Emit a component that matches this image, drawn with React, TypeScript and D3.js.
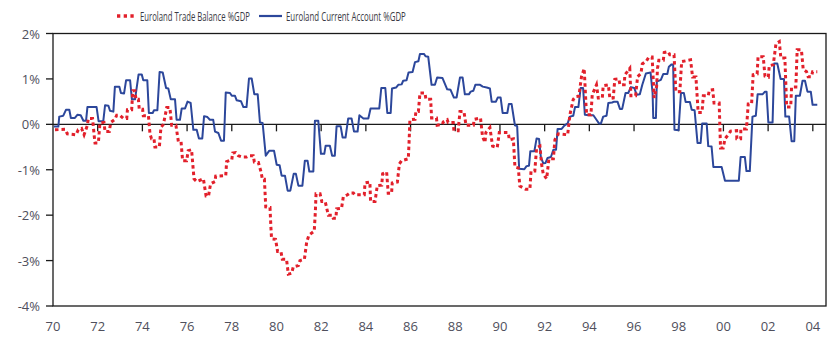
import { useEffect, useRef } from 'react';
import * as d3 from 'd3';

// Euroland trade balance vs current account, % of GDP

const tradeYears = [
    1970.09, 1970.54, 1970.64, 1971.03, 1971.13, 1971.28, 1971.39, 1971.54, 1971.58, 1971.77,
    1971.85, 1971.88, 1972.03, 1972.10, 1972.28, 1972.33, 1972.52, 1972.58, 1972.77, 1972.85,
    1972.99, 1973.15, 1973.30, 1973.33, 1973.52, 1973.57, 1973.67, 1973.71, 1973.82, 1973.86,
    1974.01, 1974.04, 1974.27, 1974.34, 1974.41, 1974.52, 1974.56, 1974.76, 1974.83, 1974.94,
    1975.03, 1975.09, 1975.23, 1975.31, 1975.50, 1975.61, 1975.73, 1975.80, 1975.98, 1976.05,
    1976.20, 1976.31, 1976.43, 1976.73, 1976.85, 1976.96, 1977.05, 1977.25, 1977.28, 1977.73,
    1977.77, 1978.00, 1978.04, 1978.17, 1978.29, 1978.47, 1978.66, 1978.77, 1978.96, 1979.01,
    1979.19, 1979.31, 1979.37, 1979.46, 1979.52, 1979.71, 1979.75, 1979.78, 1979.96, 1980.05,
    1980.20, 1980.26, 1980.45, 1980.53, 1980.68, 1980.75, 1980.98, 1981.05, 1981.25, 1981.35,
    1981.45, 1981.69, 1981.74, 1981.77, 1981.95, 1982.03, 1982.18, 1982.32, 1982.50, 1982.54,
    1982.66, 1982.69, 1982.91, 1982.99, 1983.18, 1983.29, 1983.44, 1983.51, 1983.93, 1983.96,
    1984.18, 1984.21, 1984.41, 1984.51, 1984.71, 1984.75, 1984.93, 1985.00, 1985.15, 1985.18,
    1985.41, 1985.50, 1985.60, 1985.90, 1985.94, 1985.97, 1986.20, 1986.24, 1986.35, 1986.42,
    1986.64, 1986.69, 1986.90, 1986.94, 1987.16, 1987.19, 1987.43, 1987.46, 1987.64, 1987.68,
    1987.91, 1987.94, 1988.13, 1988.21, 1988.39, 1988.48, 1988.81, 1988.85, 1989.13, 1989.22,
    1989.33, 1989.37, 1989.55, 1989.67, 1989.88, 1989.97, 1990.37, 1990.42, 1990.60, 1990.67,
    1990.82, 1990.89, 1991.04, 1991.15, 1991.34, 1991.39, 1991.56, 1991.64, 1991.79, 1991.86,
    1991.94, 1992.09, 1992.19, 1992.39, 1992.46, 1992.61, 1993.03, 1993.13, 1993.28, 1993.38,
    1993.53, 1993.65, 1993.77, 1993.85, 1993.88, 1994.07, 1994.13, 1994.32, 1994.40, 1994.58,
    1994.62, 1994.85, 1994.92, 1995.07, 1995.14, 1995.32, 1995.37, 1995.56, 1995.59, 1995.81,
    1995.86, 1996.07, 1996.16, 1996.31, 1996.37, 1996.56, 1996.66, 1996.81, 1996.90, 1997.01,
    1997.05, 1997.11, 1997.31, 1997.35, 1997.53, 1997.60, 1997.79, 1997.87, 1998.05, 1998.13,
    1998.53, 1998.62, 1998.77, 1998.87, 1999.04, 1999.10, 1999.32, 1999.37, 1999.52, 1999.58,
    1999.81, 1999.87, 1999.99, 2000.07, 2000.21, 2000.32, 2000.59, 2000.60, 2000.77, 2000.78,
    2001.03, 2001.11, 2001.26, 2001.33, 2001.51, 2001.55, 2001.78, 2001.86, 2002.01, 2002.05,
    2002.23, 2002.35, 2002.50, 2002.57, 2002.75, 2002.83, 2003.01, 2003.05, 2003.24, 2003.30,
    2003.49, 2003.57, 2003.72, 2003.79, 2003.94, 2003.99, 2004.20,
];

const tradeValues = [
    -0.12, -0.11, -0.21, -0.23, -0.12, -0.09, -0.23, -0.02, 0.13, 0.13,
    -0.28, -0.41, -0.41, 0.03, 0.04, -0.16, -0.16, 0.04, 0.11, 0.20,
    0.20, 0.13, 0.13, 0.32, 0.32, 0.74, 0.74, 0.55, 0.55, 0.33,
    0.33, 0.19, 0.19, -0.21, -0.32, -0.32, -0.50, -0.50, -0.07, 0.00,
    0.22, 0.37, 0.37, -0.02, -0.02, -0.38, -0.38, -0.80, -0.80, -0.58,
    -0.56, -1.20, -1.26, -1.20, -1.58, -1.58, -1.31, -1.26, -1.14, -1.13,
    -0.82, -0.78, -0.63, -0.62, -0.69, -0.72, -0.72, -0.69, -0.69, -0.83,
    -0.84, -1.05, -1.21, -1.21, -1.82, -1.83, -2.26, -2.52, -2.53, -2.80,
    -2.80, -2.97, -2.97, -3.30, -3.28, -3.14, -3.11, -3.00, -2.97, -2.60,
    -2.44, -2.35, -1.92, -1.53, -1.53, -1.70, -1.70, -2.00, -2.00, -2.07,
    -2.07, -1.86, -1.85, -1.60, -1.55, -1.51, -1.51, -1.55, -1.55, -1.29,
    -1.27, -1.70, -1.70, -1.35, -1.34, -1.09, -1.05, -1.52, -1.52, -1.29,
    -1.27, -0.87, -0.80, -0.76, -0.31, 0.10, 0.11, 0.28, 0.28, 0.69,
    0.69, 0.55, 0.55, 0.14, 0.14, -0.02, 0.00, 0.05, 0.10, 0.04,
    0.04, -0.14, -0.14, 0.28, 0.28, -0.02, -0.02, 0.11, 0.14, -0.27,
    -0.40, -0.18, -0.07, -0.48, -0.51, -0.18, -0.18, -0.34, -0.32, -0.94,
    -0.96, -1.36, -1.40, -1.43, -1.43, -1.03, -1.03, -0.52, -0.48, -0.87,
    -1.10, -1.20, -0.76, -0.76, -0.34, -0.21, -0.23, 0.21, 0.55, 0.61,
    0.62, 1.05, 1.23, 0.43, 0.21, 0.21, 0.65, 0.87, 0.58, 0.58,
    0.85, 0.87, 0.57, 0.58, 0.99, 1.00, 0.87, 0.87, 1.09, 1.23,
    0.63, 0.63, 1.05, 1.12, 1.33, 1.40, 1.48, 1.48, 0.58, 0.83,
    1.23, 1.41, 1.41, 1.58, 1.60, 1.53, 1.53, 0.72, 0.72, 1.38,
    1.42, 1.04, 1.04, 0.26, 0.26, 0.63, 0.63, 0.75, 0.76, 0.47,
    0.47, -0.52, -0.52, -0.32, -0.23, -0.15, -0.14, -0.32, -0.32, -0.10,
    -0.10, 0.45, 0.45, 1.09, 1.11, 1.49, 1.49, 1.06, 1.04, 1.29,
    1.31, 1.77, 1.82, 1.46, 1.46, 0.38, 0.38, 0.82, 0.82, 1.64,
    1.64, 1.21, 1.16, 1.05, 1.05, 1.16, 1.16,
];

const currentYears = [
    1970.04, 1970.24, 1970.28, 1970.46, 1970.58, 1970.73, 1970.80, 1970.98, 1971.09, 1971.24,
    1971.36, 1971.48, 1971.54, 1971.95, 1972.04, 1972.25, 1972.33, 1972.48, 1972.55, 1972.70,
    1972.77, 1972.97, 1973.04, 1973.18, 1973.27, 1973.45, 1973.53, 1973.67, 1973.83, 1973.97,
    1974.04, 1974.22, 1974.29, 1974.46, 1974.52, 1974.67, 1974.77, 1974.91, 1975.06, 1975.16,
    1975.27, 1975.46, 1975.53, 1975.68, 1975.76, 1975.91, 1976.02, 1976.16, 1976.28, 1976.43,
    1976.53, 1976.68, 1976.76, 1976.91, 1977.02, 1977.17, 1977.25, 1977.40, 1977.52, 1977.65,
    1977.73, 1977.92, 1978.00, 1978.14, 1978.22, 1978.41, 1978.52, 1978.66, 1978.77, 1978.89,
    1979.01, 1979.16, 1979.26, 1979.38, 1979.52, 1979.68, 1979.89, 1980.01, 1980.14, 1980.23,
    1980.38, 1980.50, 1980.62, 1980.77, 1980.87, 1980.98, 1981.16, 1981.27, 1981.39, 1981.47,
    1981.65, 1981.72, 1981.87, 1981.99, 1982.14, 1982.20, 1982.39, 1982.49, 1982.61, 1982.69,
    1982.87, 1982.96, 1983.09, 1983.21, 1983.36, 1983.47, 1983.63, 1983.71, 1983.89, 1984.11,
    1984.21, 1984.60, 1984.69, 1984.87, 1984.96, 1985.11, 1985.17, 1985.35, 1985.45, 1985.60,
    1985.67, 1985.82, 1985.91, 1986.09, 1986.20, 1986.35, 1986.42, 1986.60, 1986.67, 1986.79,
    1986.94, 1987.09, 1987.19, 1987.43, 1987.64, 1987.79, 1987.94, 1988.06, 1988.21, 1988.33,
    1988.43, 1988.61, 1988.69, 1988.81, 1988.90, 1989.11, 1989.23, 1989.41, 1989.55, 1989.63,
    1989.82, 1989.90, 1990.03, 1990.12, 1990.33, 1990.40, 1990.52, 1990.67, 1990.77, 1990.86,
    1991.09, 1991.19, 1991.30, 1991.36, 1991.54, 1991.64, 1991.75, 1991.83, 1991.94, 1992.04,
    1992.13, 1992.28, 1992.39, 1992.51, 1992.58, 1992.76, 1992.88, 1993.03, 1993.13, 1993.28,
    1993.36, 1993.51, 1993.61, 1993.72, 1993.80, 1993.98, 1994.18, 1994.32, 1994.43, 1994.52,
    1994.62, 1994.77, 1994.85, 1995.02, 1995.11, 1995.26, 1995.37, 1995.47, 1995.62, 1995.74,
    1995.86, 1996.01, 1996.12, 1996.26, 1996.37, 1996.53, 1996.74, 1996.83, 1996.86, 1996.98,
    1997.02, 1997.20, 1997.31, 1997.49, 1997.56, 1997.68, 1997.75, 1997.81, 1997.99, 1998.10,
    1998.23, 1998.31, 1998.50, 1998.58, 1998.71, 1998.84, 1998.98, 1999.05, 1999.25, 1999.32,
    1999.47, 1999.55, 1999.92, 2000.07, 2000.69, 2000.77, 2000.96, 2001.03, 2001.18, 2001.30,
    2001.45, 2001.53, 2001.75, 2001.86, 2001.93, 2002.01, 2002.20, 2002.27, 2002.41, 2002.56,
    2002.71, 2002.77, 2002.94, 2003.05, 2003.17, 2003.24, 2003.42, 2003.54, 2003.65, 2003.76,
    2003.91, 2003.99, 2004.20,
];

const currentValues = [
    -0.05, -0.05, 0.17, 0.19, 0.32, 0.32, 0.14, 0.14, 0.21, 0.20,
    0.08, 0.08, 0.38, 0.38, 0.07, 0.07, 0.42, 0.41, 0.30, 0.28,
    0.83, 0.83, 0.69, 0.68, 0.97, 0.97, 0.55, 0.55, 1.10, 1.10,
    0.97, 0.97, 0.25, 0.25, 0.31, 0.31, 1.15, 1.14, 0.80, 0.79,
    0.55, 0.55, 0.10, 0.10, 0.35, 0.35, 0.50, 0.47, -0.12, -0.12,
    -0.31, -0.31, 0.18, 0.16, 0.10, 0.10, -0.16, -0.19, -0.36, -0.36,
    0.70, 0.69, 0.63, 0.63, 0.53, 0.51, 0.38, 0.38, 1.01, 1.01,
    0.66, 0.66, 0.04, 0.03, -0.69, -0.58, -0.58, -0.89, -0.90, -1.13,
    -1.13, -1.46, -1.46, -1.09, -1.09, -1.35, -1.35, -0.80, -0.80, -1.04,
    -1.04, 0.08, 0.08, -0.65, -0.65, -0.47, -0.47, -0.69, -0.69, -0.04,
    -0.04, -0.29, -0.29, 0.13, 0.13, -0.16, -0.16, 0.20, 0.13, 0.13,
    0.35, 0.35, 0.80, 0.80, 0.25, 0.25, 0.79, 0.81, 0.87, 0.88,
    0.96, 0.97, 1.14, 1.15, 1.37, 1.39, 1.55, 1.55, 1.50, 1.49,
    0.87, 0.87, 1.03, 1.02, 0.77, 0.76, 0.59, 0.59, 1.03, 1.03,
    0.66, 0.66, 0.72, 0.74, 0.87, 0.87, 0.83, 0.81, 0.79, 0.50,
    0.50, 0.59, 0.59, 0.25, 0.25, 0.45, 0.45, -0.02, -0.04, -0.98,
    -0.99, -0.92, -0.91, -0.59, -0.59, -0.31, -0.32, -0.72, -0.86, -0.85,
    -0.74, -0.72, -0.56, -0.56, -0.10, -0.10, -0.03, 0.02, 0.17, 0.19,
    0.38, 0.38, 0.80, 0.80, 0.21, 0.20, 0.20, 0.10, 0.02, 0.02,
    0.17, 0.19, 0.47, 0.48, 0.50, 0.50, 0.34, 0.34, 0.69, 0.69,
    0.82, 0.80, 0.65, 0.66, 0.87, 1.12, 1.14, 0.69, 0.14, 0.14,
    0.94, 0.98, 1.11, 1.11, 1.27, 1.32, 1.32, -0.12, -0.13, 0.69,
    0.69, 0.49, 0.49, 0.32, 0.31, -0.41, -0.41, 0.02, 0.02, -0.48,
    -0.49, -0.94, -0.94, -1.24, -1.24, -0.72, -0.72, -1.03, -1.03, 0.17,
    0.19, 0.66, 0.66, 0.72, 0.72, 0.04, 0.04, 1.34, 1.34, 1.00,
    1.00, 0.17, 0.17, -0.37, -0.37, 0.63, 0.63, 0.96, 0.96, 0.72,
    0.72, 0.43, 0.43,
];

const yTicks = [2, 1, 0, -1, -2, -3, -4];
const xTickYears = [1970, 1972, 1974, 1976, 1978, 1980, 1982, 1984, 1986, 1988, 1990, 1992, 1994, 1996, 1998, 2000, 2002, 2004];

const tradeLabel = 'Euroland Trade Balance %GDP';
const currentLabel = 'Euroland Current Account %GDP';

const RED = '#e2202b';
const BLUE = '#2c479b';
const TEXT = '#4f4f5c';

export default function App() {
    const svgRef = useRef<SVGSVGElement>(null);

    useEffect(() => {
        if (!svgRef.current) return;
        const svg = d3.select(svgRef.current);
        svg.selectAll('*').remove();

        const left = 53, right = 826, top = 33.5, bottom = 306;
        const font = '"Open Sans", "DejaVu Sans", sans-serif';

        const x = d3.scaleLinear().domain([1970, 2004.59]).range([left, right]);
        const y = d3.scaleLinear().domain([-4, 2]).range([bottom, top]);

        // frame
        svg.append('rect')
            .attr('x', left).attr('y', top)
            .attr('width', right - left).attr('height', bottom - top)
            .attr('fill', 'none').attr('stroke', '#1a1a1a').attr('stroke-width', 1.3);

        // y ticks + labels
        yTicks.forEach(t => {
            svg.append('line')
                .attr('x1', left - 7).attr('x2', left)
                .attr('y1', y(t)).attr('y2', y(t))
                .attr('stroke', '#1a1a1a').attr('stroke-width', 1.3);
            svg.append('text')
                .attr('x', left - 13).attr('y', y(t))
                .attr('text-anchor', 'end').attr('dominant-baseline', 'central')
                .attr('font-family', font).attr('font-size', '13px')
                .attr('fill', TEXT)
                .text(`${t}%`);
        });

        // zero line with year ticks hanging below it
        svg.append('line')
            .attr('x1', left).attr('x2', right)
            .attr('y1', y(0)).attr('y2', y(0))
            .attr('stroke', '#1a1a1a').attr('stroke-width', 1.3);

        xTickYears.forEach(yr => {
            if (yr > 1970) {
                svg.append('line')
                    .attr('x1', x(yr)).attr('x2', x(yr))
                    .attr('y1', y(0)).attr('y2', y(0) + 7)
                    .attr('stroke', '#1a1a1a').attr('stroke-width', 1.3);
            }
            svg.append('text')
                .attr('x', x(yr)).attr('y', 326)
                .attr('text-anchor', 'middle').attr('dominant-baseline', 'central')
                .attr('font-family', font).attr('font-size', '13px')
                .attr('fill', TEXT)
                .text(String(yr % 100).padStart(2, '0'));
        });

        const line = d3.line<[number, number]>()
            .x(d => x(d[0]))
            .y(d => y(d[1]));

        const current = currentYears.map((yr, i) => [yr, currentValues[i]] as [number, number]);
        const trade = tradeYears.map((yr, i) => [yr, tradeValues[i]] as [number, number]);

        svg.append('path')
            .attr('d', line(current)!)
            .attr('fill', 'none')
            .attr('stroke', BLUE)
            .attr('stroke-width', 2)
            .attr('stroke-linejoin', 'round');

        svg.append('path')
            .attr('d', line(trade)!)
            .attr('fill', 'none')
            .attr('stroke', RED)
            .attr('stroke-width', 3)
            .attr('stroke-dasharray', '3.5,3');

        // legend: the source font is condensed, so scale each label horizontally to its width
        const ly = 16;
        const legendText = (tx: number, width: number, label: string) => {
            const g = svg.append('g');
            const t = g.append('text')
                .attr('x', 0).attr('y', 0)
                .attr('dominant-baseline', 'central')
                .attr('font-family', font).attr('font-size', '13px')
                .attr('fill', '#3a3a44')
                .text(label);
            const natural = (t.node() as SVGTextElement).getComputedTextLength() || width;
            g.attr('transform', `translate(${tx},${ly}) scale(${width / natural},1)`);
        };

        svg.append('line')
            .attr('x1', 117).attr('x2', 137).attr('y1', ly).attr('y2', ly)
            .attr('stroke', RED).attr('stroke-width', 3.3)
            .attr('stroke-dasharray', '3.3,3.4');
        legendText(140, 110, tradeLabel);

        svg.append('line')
            .attr('x1', 259).attr('x2', 282).attr('y1', ly).attr('y2', ly)
            .attr('stroke', BLUE).attr('stroke-width', 2.2);
        legendText(286, 120, currentLabel);
    }, []);

    return (
        <svg
            ref={svgRef}
            width="839"
            height="350"
            style={{ position: 'absolute', left: 0, top: 0, background: '#fff' }}
        />
    );
}
